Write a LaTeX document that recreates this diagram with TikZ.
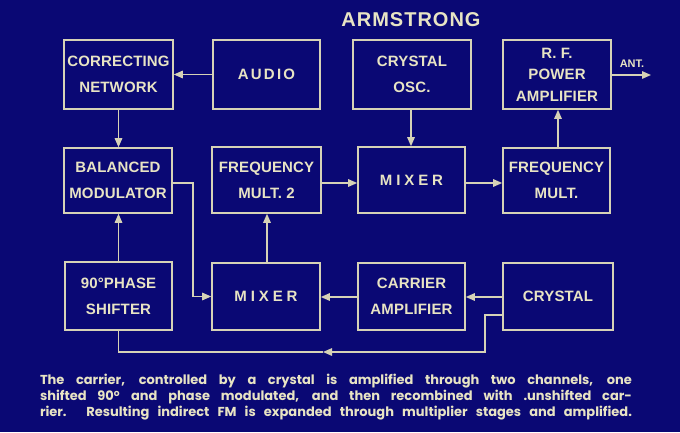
\documentclass[tikz,border=0pt]{standalone}
\usepackage{fontspec}
\setmainfont{Liberation Sans}
\newfontfamily\lbl[LetterSpace=1]{Liberation Sans}
\newfontfamily\lblaudio[LetterSpace=15]{Liberation Sans}
\newfontfamily\lblmix[LetterSpace=26]{Liberation Sans}
\newfontfamily\capfont{Poppins}
\usetikzlibrary{arrows.meta}
\definecolor{bg}{HTML}{0A0874}
\definecolor{ink}{HTML}{D6D2B6}
\definecolor{txt}{HTML}{E8E4C4}
\begin{document}
\begin{tikzpicture}[x=1pt,y=-1pt,
  blk/.style={draw=ink, line width=1.6pt, fill=bg, text=txt, align=center,
    inner sep=0pt, font=\lbl\bfseries\fontsize{15}{26}\selectfont},
  conn/.style={draw=ink, line width=1.4pt},
  arr/.style={conn, -{Triangle[length=9pt,width=7.5pt]}}]
\fill[bg] (0,0) rectangle (680,432);
\useasboundingbox (0,0) rectangle (680,432);

\node[text=txt, font=\bfseries\fontsize{20}{20}\selectfont\addfontfeature{LetterSpace=5}] (title) at (411,20) {ARMSTRONG};

\node[blk, minimum width=109pt, minimum height=69pt] (CN) at (118.5,74.5) {CORRECTING\\NETWORK};
\node[blk, minimum width=107pt, minimum height=69pt, font=\lblaudio\bfseries\fontsize{15}{26}\selectfont] (AU) at (266.5,74.5) {AUDIO};
\node[blk, minimum width=118pt, minimum height=69pt] (CO) at (412,74.5) {CRYSTAL\\OSC.};
\node[blk, minimum width=108pt, minimum height=69pt, font=\lbl\bfseries\fontsize{15}{21.5}\selectfont] (RF) at (557,74.5) {R. F.\\POWER\\AMPLIFIER};
\node[blk, minimum width=108pt, minimum height=65pt] (BM) at (118,180.5) {BALANCED\\MODULATOR};
\node[blk, minimum width=109pt, minimum height=66pt] (F2) at (266.5,180) {FREQUENCY\\MULT. 2};
\node[blk, minimum width=107pt, minimum height=66pt, font=\lblmix\bfseries\fontsize{15}{26}\selectfont] (MX1) at (411.5,180) {MIXER};
\node[blk, minimum width=107pt, minimum height=65pt] (FM) at (556.5,180.5) {FREQUENCY\\MULT.};
\node[blk, minimum width=107pt, minimum height=68pt] (PS) at (118.5,296) {90\textdegree PHASE\\SHIFTER};
\node[blk, minimum width=108pt, minimum height=67pt, font=\lblmix\bfseries\fontsize{15}{26}\selectfont] (MX2) at (266,296.5) {MIXER};
\node[blk, minimum width=107pt, minimum height=67pt] (CA) at (411.5,296.5) {CARRIER\\AMPLIFIER};
\node[blk, minimum width=110pt, minimum height=67pt] (CR) at (558,296.5) {CRYSTAL};

% connectors
\draw[arr] (AU) -- (CN);
\draw[arr] (CN.south) -- (CN.south |- BM.north);
\draw[arr] (PS.north) -- (PS.north |- BM.south);
\coordinate (bmr) at (193,183);
\draw[arr] (BM.east |- bmr) -- (bmr) |- (MX2.west);
\draw[arr] (MX2.north -| 267,0) -- (267,0 |- F2.south);
\coordinate (f2r) at (321,183);
\draw[arr] (F2.east |- f2r) -- (MX1.west |- f2r);
\draw[arr] (CO.south -| 411,0) -- (411,0 |- MX1.north);
\draw[arr] (MX1.east |- f2r) -- (FM.west |- f2r);
\draw[arr] (FM.north -| 558,0) -- (558,0 |- RF.south);
\coordinate (ant) at (651,75);
\draw[arr] (RF.east |- ant) -- (ant);
\node[text=txt, font=\bfseries\fontsize{11}{11}\selectfont] (antl) at (632,64) {ANT.};
\draw[arr] (CR.west |- 0,297) -- (CA.east |- 0,297);
\draw[arr] (CA.west |- 0,297) -- (MX2.east |- 0,297);
\coordinate (crk) at (485,352);
\coordinate (tip) at (323,352);
\draw[arr] (CR.west |- 0,315) -| (crk) -- (tip);
\draw[conn] (tip) -| (PS.south);

% caption
\node[text=txt, align=center, inner sep=0pt, font=\capfont\bfseries\fontsize{13}{16}\selectfont] (cap) at (336,397)
 {\makebox[592pt][s]{The carrier, controlled by a crystal is amplified through two channels, one}\\
  \makebox[592pt][s]{shifted 90\textsuperscript{o} and phase modulated, and then recombined with .unshifted car-}\\
  \makebox[592pt][s]{rier. Resulting indirect FM is expanded through multiplier stages and amplified.}};
\end{tikzpicture}
\end{document}
